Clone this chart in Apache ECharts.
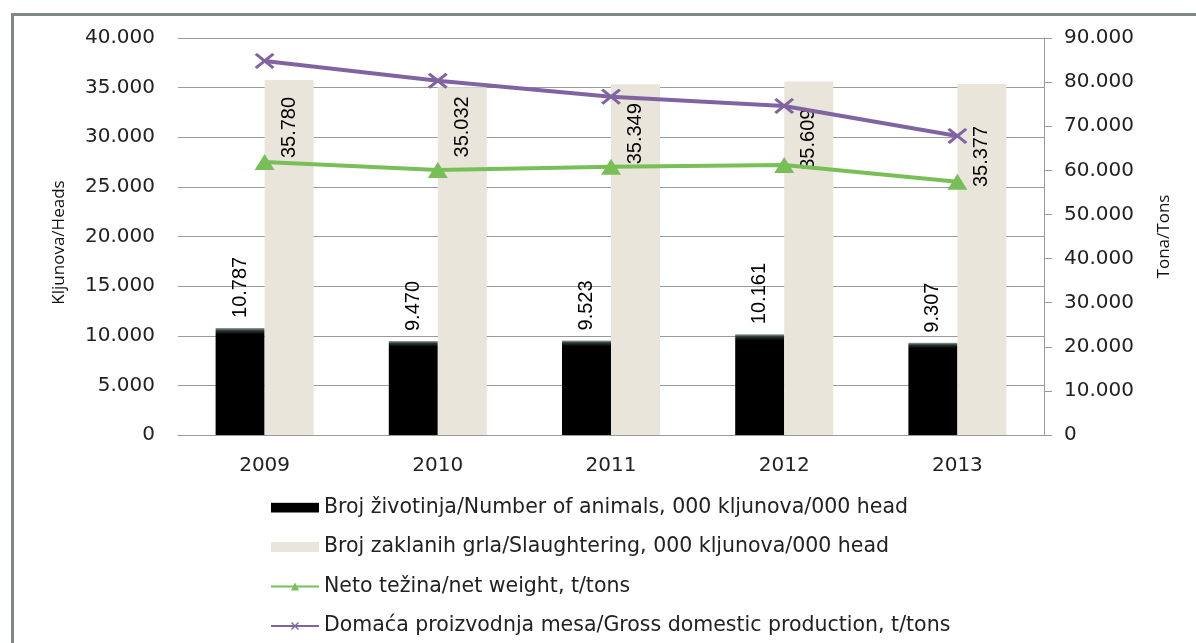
<!DOCTYPE html>
<html>
<head>
<meta charset="utf-8">
<script src="https://cdn.jsdelivr.net/npm/echarts@6/dist/echarts.min.js"></script>
<style>
html,body{margin:0;padding:0;background:#fff;}
#c{width:1196px;height:643px;}
</style>
</head>
<body>
<div id="c"></div>
<script>
const years = ['2009', '2010', '2011', '2012', '2013'];
const animals = [10787, 9470, 9523, 10161, 9307];
const slaughtering = [35780, 35032, 35349, 35609, 35377];
const netWeight = [61900, 60100, 60800, 61200, 57400];
const grossProduction = [84800, 80300, 76700, 74600, 67800];
const leftTicks = [0, 5000, 10000, 15000, 20000, 25000, 30000, 35000, 40000];
const rightTicks = [0, 10000, 20000, 30000, 40000, 50000, 60000, 70000, 80000, 90000];

const seriesNames = [
  'Broj životinja/Number of animals, 000 kljunova/000 head',
  'Broj zaklanih grla/Slaughtering, 000 kljunova/000 head',
  'Neto težina/net weight, t/tons',
  'Domaća proizvodnja mesa/Gross domestic production, t/tons'
];

// label placement styling (not data)
const slaughterLabelGap = [17, 9, 19, 27, 42];

function fmt(v) {
  return String(v).replace(/\B(?=(\d{3})+(?!\d))/g, '.');
}

const PURPLE = '#8064A2';
const GREEN = '#79BF58';
const BEIGE = '#E9E5DA';
const GRID = '#9a9a9a';
const XPATH = 'path://M0,1.2 L1.2,0 L5,3.8 L8.8,0 L10,1.2 L6.2,5 L10,8.8 L8.8,10 L5,6.2 L1.2,10 L0,8.8 L3.8,5 Z';

const axisLabelStyle = {fontFamily: 'DejaVu Sans', fontSize: 20, color: '#222'};
const labelFont = "'Liberation Sans', Arial, sans-serif";

const chart = echarts.init(document.getElementById('c'), null, {renderer: 'canvas'});
chart.setOption({
  animation: false,
  backgroundColor: '#fff',
  graphic: [{
    type: 'polyline',
    shape: {points: [[12.5, 643], [12.5, 14.5], [1196, 14.5]]},
    style: {stroke: '#7f8888', lineWidth: 3, fill: null},
    z: 100
  }],
  grid: {left: 178, right: 152, top: 38, bottom: 208, containLabel: false},
  legend: {
    orient: 'vertical',
    left: 270,
    top: 497,
    padding: 0,
    itemWidth: 48,
    itemHeight: 10,
    itemGap: 18.5,
    textStyle: {fontFamily: 'DejaVu Sans', fontSize: 20.5, color: '#222', lineHeight: 20},
    data: [
      {name: seriesNames[0], icon: 'rect'},
      {name: seriesNames[1], icon: 'rect'},
      {name: seriesNames[2]},
      {name: seriesNames[3]}
    ]
  },
  xAxis: {
    type: 'category',
    data: years,
    axisLine: {lineStyle: {color: GRID, width: 1}},
    axisTick: {show: false},
    axisLabel: Object.assign({margin: 21}, axisLabelStyle)
  },
  yAxis: [{
    type: 'value',
    min: 0, max: 40000, interval: 5000,
    name: 'Kljunova/Heads',
    nameLocation: 'middle',
    nameRotate: 90,
    nameGap: 110,
    nameTextStyle: {fontFamily: 'Open Sans', fontSize: 17, color: '#111', padding: [0, 12, 0, 0]},
    axisLine: {show: false},
    axisTick: {show: false},
    splitLine: {lineStyle: {color: GRID, width: 1}},
    axisLabel: Object.assign({margin: 23, formatter: v => leftTicks.includes(v) ? fmt(v) : ''}, axisLabelStyle)
  }, {
    type: 'value',
    min: 0, max: 90000, interval: 10000,
    name: 'Tona/Tons',
    nameLocation: 'middle',
    nameRotate: 90,
    nameGap: 112,
    nameTextStyle: {fontFamily: 'Open Sans', fontSize: 17, color: '#111'},
    axisLine: {show: true, lineStyle: {color: GRID, width: 1}},
    axisTick: {show: true, inside: false, length: 8, lineStyle: {color: GRID}},
    splitLine: {show: false},
    axisLabel: Object.assign({margin: 20, formatter: v => rightTicks.includes(v) ? fmt(v) : ''}, axisLabelStyle)
  }],
  series: [{
    name: seriesNames[0],
    type: 'bar',
    data: animals,
    barWidth: 49,
    barGap: '0%',
    itemStyle: {
      color: new echarts.graphic.LinearGradient(0, 0, 0, 1, [
        {offset: 0, color: '#9aa8a8'},
        {offset: 0.025, color: '#2b3838'},
        {offset: 0.06, color: '#000'},
        {offset: 1, color: '#000'}
      ])
    },
    label: {
      show: true,
      position: 'top',
      distance: 10,
      rotate: 90,
      align: 'left',
      verticalAlign: 'middle',
      fontFamily: labelFont,
      fontSize: 20,
      color: '#000',
      formatter: p => fmt(p.value)
    },
    z: 2
  }, {
    name: seriesNames[1],
    type: 'bar',
    data: slaughtering.map((v, i) => ({
      value: v,
      label: {distance: slaughterLabelGap[i]}
    })),
    barWidth: 49,
    itemStyle: {color: BEIGE},
    label: {
      show: true,
      position: 'insideTop',
      rotate: 90,
      align: 'right',
      verticalAlign: 'middle',
      fontFamily: labelFont,
      fontSize: 20,
      color: '#000',
      formatter: p => fmt(p.value)
    },
    z: 2
  }, {
    name: seriesNames[2],
    type: 'line',
    yAxisIndex: 1,
    data: netWeight,
    symbol: 'triangle',
    symbolSize: [20, 16],
    lineStyle: {color: GREEN, width: 4},
    itemStyle: {color: GREEN},
    z: 5
  }, {
    name: seriesNames[3],
    type: 'line',
    yAxisIndex: 1,
    data: grossProduction,
    symbol: XPATH,
    symbolSize: [20, 16],
    lineStyle: {color: PURPLE, width: 4},
    itemStyle: {color: PURPLE},
    z: 5
  }]
});
</script>
</body>
</html>
